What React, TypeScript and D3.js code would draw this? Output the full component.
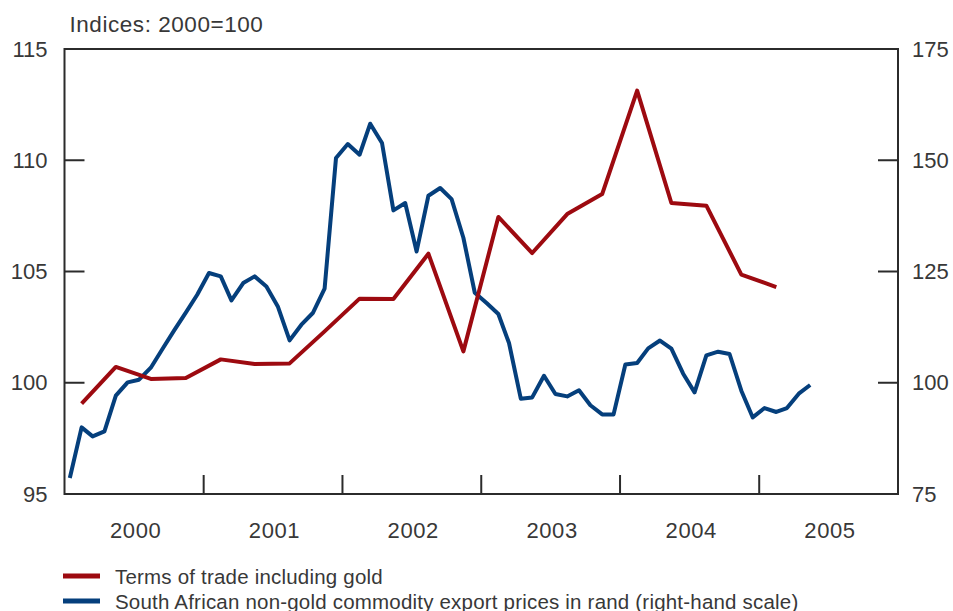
import React, { useEffect, useRef } from 'react';
import * as d3 from 'd3';

// quarterly, 2000Q1 .. 2005Q1, left-hand scale
const termsOfTrade = [
  99.06, 100.71, 100.17, 100.21,
  101.05, 100.84, 100.87, 102.31,
  103.78, 103.76, 105.8, 101.41,
  107.45, 105.83, 107.58, 108.48,
  113.13, 108.08, 107.96, 104.86,
  104.3
];

// monthly, Jan 2000 .. May 2005, right-hand scale
const exportPrices = [
  78.6, 89.97, 87.94, 89.07, 97.09, 100.08, 100.68, 103.38, 107.65, 111.7, 115.74, 119.78,
  124.66, 123.9, 118.5, 122.41, 123.9, 121.65, 117.16, 109.52, 113.04, 115.67, 121.13, 150.5,
  153.65, 151.24, 158.21, 153.87, 138.73, 140.39, 129.51, 142.03, 143.76, 141.25, 132.59, 120.23,
  117.92, 115.45, 108.93, 96.42, 96.71, 101.58, 97.47, 96.93, 98.32, 94.95, 92.89, 92.89,
  104.12, 104.44, 107.72, 109.49, 107.65, 102.03, 97.83, 106.15, 106.98, 106.46, 98.21, 92.21,
  94.32, 93.43, 94.32, 97.54, 99.49
];

const years = [2000, 2001, 2002, 2003, 2004, 2005];
const leftTicks = [95, 100, 105, 110, 115];
const rightTicks = [75, 100, 125, 150, 175];

const legendItems = [
  { label: 'Terms of trade including gold', color: '#9d0a10' },
  { label: 'South African non-gold commodity export prices in rand (right-hand scale)', color: '#053f7c' }
];

const FONT = '"Liberation Sans", Arial, sans-serif';
const INK = '#383838';

export default function App() {
  const ref = useRef<SVGSVGElement>(null);

  useEffect(() => {
    const svg = d3.select(ref.current);
    svg.selectAll('*').remove();

    const margin = { top: 49, right: 55, bottom: 117, left: 64.5 };
    const width = 953 - margin.left - margin.right;
    const height = 611 - margin.top - margin.bottom;
    const start = new Date(2000, 0, 1);

    const x = d3.scaleTime()
      .domain([start, new Date(2006, 0, 1)])
      .range([0, width]);
    const yLeft = d3.scaleLinear().domain([95, 115]).range([height, 0]);
    const yRight = d3.scaleLinear().domain([75, 175]).range([height, 0]);

    const g = svg.append('g')
      .attr('transform', 'translate(' + margin.left + ',' + margin.top + ')');

    // frame
    g.append('rect')
      .attr('width', width)
      .attr('height', height)
      .attr('fill', 'none')
      .attr('stroke', '#2b2b2b')
      .attr('stroke-width', 2);

    // inner ticks, left and right
    g.selectAll('.lt')
      .data(leftTicks)
      .enter().append('line')
      .attr('x1', 0).attr('x2', 20)
      .attr('y1', d => yLeft(d)).attr('y2', d => yLeft(d))
      .attr('stroke', '#2b2b2b').attr('stroke-width', 2);
    g.selectAll('.rt')
      .data(rightTicks)
      .enter().append('line')
      .attr('x1', width - 20).attr('x2', width)
      .attr('y1', d => yRight(d)).attr('y2', d => yRight(d))
      .attr('stroke', '#2b2b2b').attr('stroke-width', 2);

    // year boundary ticks
    g.selectAll('.xt')
      .data(years.slice(1))
      .enter().append('line')
      .attr('x1', d => x(new Date(d, 0, 1))).attr('x2', d => x(new Date(d, 0, 1)))
      .attr('y1', height).attr('y2', height - 19)
      .attr('stroke', '#2b2b2b').attr('stroke-width', 2);

    // tick labels
    g.selectAll('.ll')
      .data(leftTicks)
      .enter().append('text')
      .attr('x', -17)
      .attr('y', d => yLeft(d))
      .attr('dy', '0.35em')
      .attr('text-anchor', 'end')
      .attr('font-family', FONT).attr('font-size', 22).attr('fill', INK)
      .text(d => d);
    g.selectAll('.rl')
      .data(rightTicks)
      .enter().append('text')
      .attr('x', width + 14)
      .attr('y', d => yRight(d))
      .attr('dy', '0.35em')
      .attr('font-family', FONT).attr('font-size', 22).attr('fill', INK)
      .text(d => d);
    g.selectAll('.yl')
      .data(years)
      .enter().append('text')
      .attr('x', d => x(new Date(d, 6, 1)) + 2)
      .attr('y', height + 44)
      .attr('text-anchor', 'middle')
      .attr('font-family', FONT).attr('font-size', 22).attr('fill', INK)
      .attr('letter-spacing', 0.6)
      .text(d => d);

    g.append('text')
      .attr('x', 5)
      .attr('y', -17)
      .attr('font-family', FONT).attr('font-size', 22.5).attr('fill', INK)
      .attr('letter-spacing', 0.55)
      .text('Indices: 2000=100');

    // series
    const redData = termsOfTrade.map((v, i) => ({ date: d3.timeDay.offset(d3.timeMonth.offset(start, i * 3 + 1), 14), v }));
    const blueData = exportPrices.map((v, i) => ({ date: d3.timeDay.offset(d3.timeMonth.offset(start, i), 14), v }));

    g.append('path')
      .datum(blueData)
      .attr('fill', 'none')
      .attr('stroke', legendItems[1].color)
      .attr('stroke-width', 4)
      .attr('stroke-linejoin', 'round')
      .attr('d', d3.line<{ date: Date; v: number }>()
        .x(d => x(d.date))
        .y(d => yRight(d.v)));

    g.append('path')
      .datum(redData)
      .attr('fill', 'none')
      .attr('stroke', legendItems[0].color)
      .attr('stroke-width', 4)
      .attr('stroke-linejoin', 'round')
      .attr('d', d3.line<{ date: Date; v: number }>()
        .x(d => x(d.date))
        .y(d => yLeft(d.v)));

    // legend
    const legend = svg.append('g').attr('transform', 'translate(63,576)');
    const item = legend.selectAll('g')
      .data(legendItems)
      .enter().append('g')
      .attr('transform', (d, i) => 'translate(0,' + i * 25 + ')');
    item.append('line')
      .attr('x1', 0).attr('x2', 37)
      .attr('stroke', d => d.color)
      .attr('stroke-width', 5);
    item.append('text')
      .attr('x', 52)
      .attr('y', 7.5)
      .attr('font-family', FONT).attr('font-size', 20.5).attr('fill', INK)
      .attr('letter-spacing', 0.2)
      .text(d => d.label);
  }, []);

  return (
    <div style={{ position: 'absolute', left: 0, top: 0 }}>
      <svg ref={ref} width={953} height={611} style={{ display: 'block', background: '#fff' }} />
    </div>
  );
}
